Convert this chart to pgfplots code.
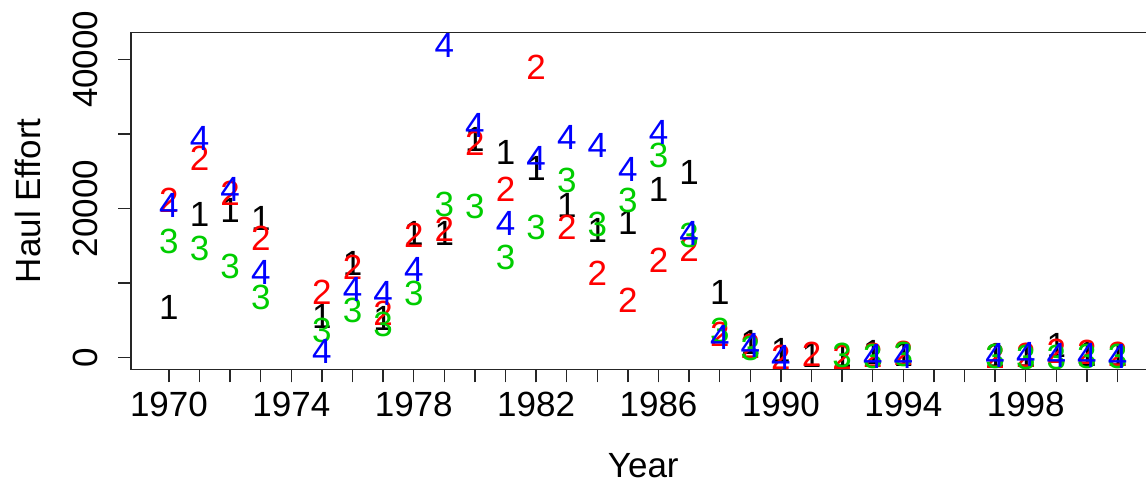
\documentclass[border=0pt]{standalone}
\usepackage{fontspec}
\setmainfont{Liberation Sans}
\usepackage{pgfplots}
\pgfplotsset{compat=1.18}
\usepackage{pgfplotstable}
\definecolor{rgreen}{HTML}{00CD00}
\newcommand\chartfont{\fontsize{17.5}{20}\selectfont}

\pgfplotstableread{
year v
1970 6800
1971 19170
1972 19710
1973 18730
1975 5500
1976 12650
1977 5200
1978 16680
1979 16680
1980 29320
1981 27530
1982 25390
1983 20470
1984 17020
1985 18150
1986 22610
1987 24850
1988 8770
1989 2060
1990 940
1991 360
1992 360
1993 700
1994 500
1997 300
1998 300
1999 1590
2000 400
2001 400
}\seriesA
\pgfplotstableread{
year v
1970 21140
1971 26730
1972 22040
1973 16000
1975 8810
1976 12120
1977 6000
1978 16450
1979 17250
1980 28740
1981 22610
1982 38930
1983 17480
1984 11310
1985 7640
1986 13000
1987 14570
1988 3180
1989 1570
1990 100
1991 500
1992 0
1993 360
1994 630
1997 200
1998 300
1999 900
2000 700
2001 520
}\seriesB
\pgfplotstableread{
year v
1970 15550
1971 14660
1972 12200
1973 8140
1975 3710
1976 6350
1977 4500
1978 8630
1979 20510
1980 20240
1981 13500
1982 17480
1983 23730
1984 17830
1985 21050
1986 27080
1987 16360
1988 3620
1989 1260
1992 360
1993 200
1994 400
1997 200
1998 30
1999 30
2000 200
2001 150
}\seriesC
\pgfplotstableread{
year v
1970 20470
1971 29360
1972 22610
1973 11450
1975 860
1976 9210
1977 8630
1978 11890
1979 41820
1980 31190
1981 18020
1982 26730
1983 29540
1984 28420
1985 25300
1986 30160
1987 16680
1988 2730
1989 1700
1990 50
1993 100
1994 230
1997 360
1998 500
1999 250
2000 360
2001 230
}\seriesD

\begin{document}
\begin{tikzpicture}
\begin{axis}[
  name=ax,
  scale only axis,
  width=512.25pt, height=168.5pt,
  xmin=1968.76, xmax=2002.24,
  ymin=-1555, ymax=43620,
  axis line style={line width=0.65pt, black!85},
  tick style={line width=0.65pt, black!85},
  minor tick style={line width=0.65pt, black!85},
  tick align=outside,
  tick pos=left,
  major tick length=6.5pt, minor tick length=6.5pt,
  xtick={1970,1974,...,1998},
  minor xtick={1971,...,2001},
  ytick={0,20000,40000},
  minor ytick={10000,30000},
  scaled y ticks=false,
  /pgf/number format/1000 sep={},
  /pgf/number format/assume math mode=true,
  tick label style={font=\chartfont, inner sep=0pt},
  xticklabel style={anchor=north},
  xticklabel shift=4.7pt,
  yticklabel style={rotate=90, anchor=south},
  yticklabel shift=10pt,
  xlabel={Year},
  ylabel={Haul Effort},
  label style={font=\chartfont},
  xlabel style={at={(axis description cs:0.5,-0.285)}, anchor=center},
  ylabel style={at={(axis description cs:-0.1005,0.5)}, anchor=center},
  clip=false,
]
\addplot[only marks, black, mark=text, text mark={1}, text mark as node=true,
  text mark style={font=\chartfont, inner sep=0pt}] table[x=year,y=v] {\seriesA};
\addplot[only marks, red, mark=text, text mark={2}, text mark as node=true,
  text mark style={font=\chartfont, inner sep=0pt}] table[x=year,y=v] {\seriesB};
\addplot[only marks, rgreen, mark=text, text mark={3}, text mark as node=true,
  text mark style={font=\chartfont, inner sep=0pt}] table[x=year,y=v] {\seriesC};
\addplot[only marks, blue, mark=text, text mark={4}, text mark as node=true,
  text mark style={font=\chartfont, inner sep=0pt}] table[x=year,y=v] {\seriesD};
\end{axis}
\pgfresetboundingbox
\path[use as bounding box] ([shift={(-65.5pt,-59.35pt)}]ax.south west) rectangle ++(573pt,244pt);
\end{tikzpicture}
\end{document}
